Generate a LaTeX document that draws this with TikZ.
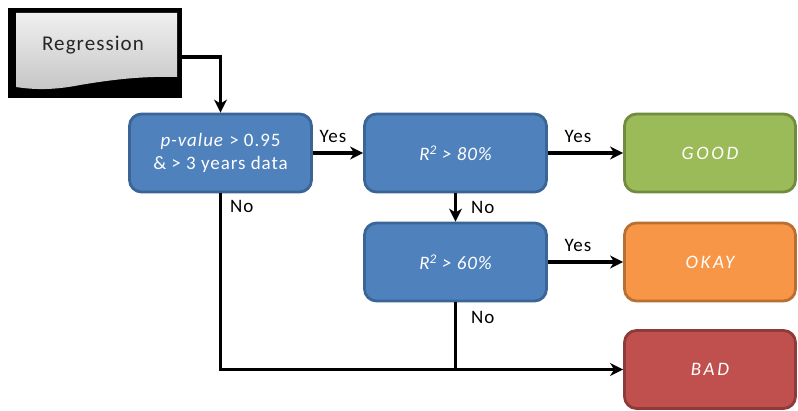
\documentclass[tikz,border=0pt]{standalone}
\usepackage{fontspec}
\setmainfont{Carlito}[LetterSpace=5]
\usepackage{xcolor}
\usetikzlibrary{arrows.meta}
\definecolor{TestBlue}{HTML}{4F81BD}
\definecolor{TestBlueEdge}{HTML}{3A6596}
\definecolor{GoodGreen}{HTML}{9BBB59}
\definecolor{GoodGreenEdge}{HTML}{718C3F}
\definecolor{OkayOrange}{HTML}{F79646}
\definecolor{OkayOrangeEdge}{HTML}{B96F32}
\definecolor{BadRed}{HTML}{C0504D}
\definecolor{BadRedEdge}{HTML}{8E3A38}

\tikzset{
  testbox/.style={draw=TestBlueEdge, fill=TestBlue, line width=2.8pt,
    rounded corners=12pt, minimum width=182pt, minimum height=78pt,
    text=white, align=center, font=\fontsize{19}{23}\selectfont},
  resultbox/.style={testbox, minimum width=171pt,
    font=\fontsize{19}{23}\selectfont\itshape\addfontfeature{LetterSpace=14}},
  flow/.style={line width=3.2pt, -{Stealth[length=13pt, width=13pt, inset=4pt]}},
  plainflow/.style={line width=3.2pt},
  answer/.style={font=\fontsize{19}{23}\selectfont, inner sep=0pt}
}

\begin{document}
\begin{tikzpicture}[x=1pt, y=-1pt]
  \useasboundingbox (0,0) rectangle (798,411);

  % regression document
  \node[fill=black, minimum width=174pt, minimum height=90pt, inner sep=0pt] (regr) at (95,53) {};
  \shade[top color=gray!12, bottom color=gray!45]
    (16,13) -- (177,13) -- (177,77)
    .. controls (140,76) and (110,80) .. (80,85)
    .. controls (55,90) and (35,90) .. (16,87) -- cycle;
  \node[font=\fontsize{21}{24}\selectfont, text=black!85] at (93,45) {Regression};

  % tests
  \node[testbox] (pval) at (220.5,153) {\textit{p-value} > 0.95\\\& > 3 years data};
  \node[testbox, font=\fontsize{19}{23}\selectfont\itshape] (rEighty) at (455.5,153) {R\textsuperscript{2} > 80\%};
  \node[testbox, font=\fontsize{19}{23}\selectfont\itshape] (rSixty) at (455.5,262) {R\textsuperscript{2} > 60\%};

  % results
  \node[resultbox, draw=GoodGreenEdge, fill=GoodGreen] (good) at (710,153) {GOOD};
  \node[resultbox, draw=OkayOrangeEdge, fill=OkayOrange] (okay) at (710,262) {OKAY};
  \node[resultbox, draw=BadRedEdge, fill=BadRed] (bad) at (710,369.5) {BAD};

  % connectors
  \draw[flow] ([yshift=-4pt]regr.east) -| (pval.north);
  \draw[flow] (pval) -- (rEighty) node[answer, pos=0.4, above=9pt] {Yes};
  \draw[flow] (rEighty) -- (good) node[answer, pos=0.4, above=9pt] {Yes};
  \draw[flow] (rEighty) -- (rSixty) node[answer, midway, right=14pt] {No};
  \draw[flow] (rSixty) -- (okay) node[answer, pos=0.4, above=9pt] {Yes};
  \draw[flow] (pval.south) |- (bad.west) node[answer, pos=0.036, right=8pt] {No};
  \draw[plainflow] (rSixty.south) -- (rSixty.south |- bad.west) node[answer, pos=0.22, right=14pt] {No};
\end{tikzpicture}
\end{document}
